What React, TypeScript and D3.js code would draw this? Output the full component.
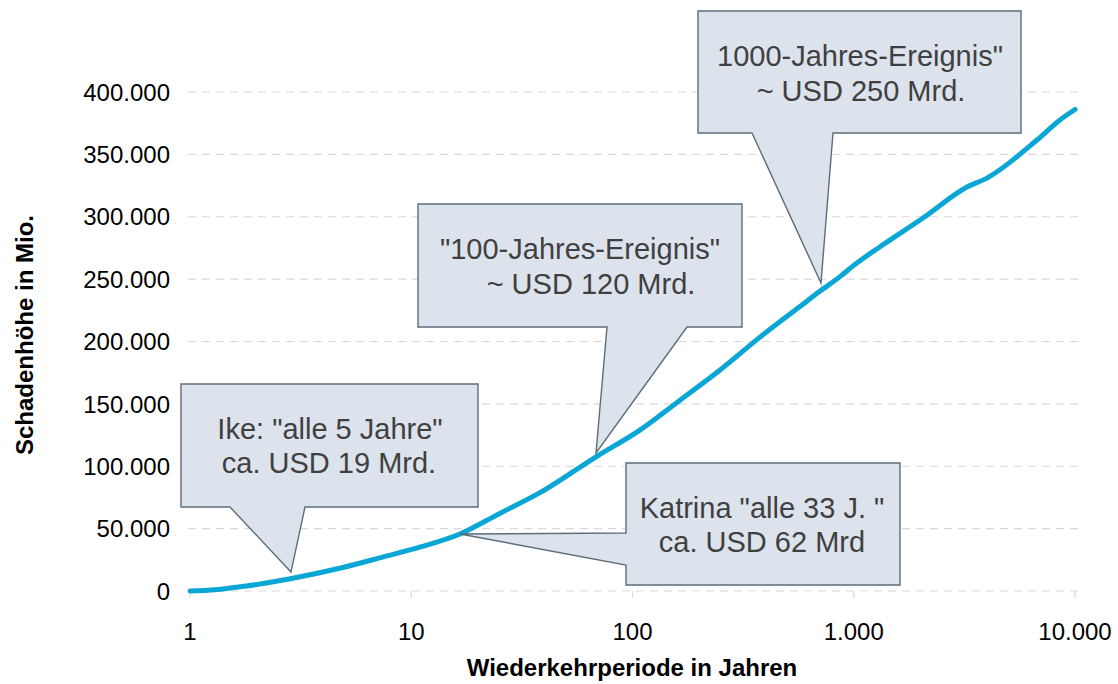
import React from "react";
import * as d3 from "d3";

// ---- data ----
const returnPeriods = [1, 1.3, 1.8, 2.8, 4.8, 7.2, 11, 16.6, 25, 38, 69, 108, 164, 248, 377, 571, 700, 867, 1000, 1315, 2056, 3250, 4000, 6730, 8550, 10000];
const lossMio = [0, 1000, 4000, 9600, 18400, 26500, 35300, 45700, 62000, 78600, 108000, 129000, 153000, 177000, 203500, 228000, 240000, 252000, 261000, 276000, 299000, 323800, 331000, 361500, 377600, 386000];

const xTicks = [1, 10, 100, 1000, 10000];
const yTicks = [0, 50000, 100000, 150000, 200000, 250000, 300000, 350000, 400000];

const xTitle = "Wiederkehrperiode in Jahren";
const yTitle = "Schadenhöhe in Mio.";

// annotation texts and the point (period, loss) each one refers to
const noteLines = [
  ['Ike: "alle 5 Jahre"', "ca. USD 19 Mrd."],
  ['"100-Jahres-Ereignis"', "~ USD 120 Mrd."],
  ['1000-Jahres-Ereignis"', "~ USD 250 Mrd."],
  ['Katrina "alle 33 J. "', "ca. USD 62 Mrd"],
];
const notePeriods = [2.86, 68.4, 711, 16.6];
const noteLosses = [15200, 110600, 246900, 45700];

// ---- layout (pixels) ----
const W = 1118;
const H = 684;
const plot = { left: 190, right: 1075, top: 92, bottom: 591 };
const noteLayout = [
  { box: [181, 384, 478, 507], side: "bottom", base: [230, 305], cx: [330, 329], by: [439, 473] },
  { box: [418, 204, 742, 327], side: "bottom", base: [607, 687], cx: [580, 591], by: [259, 294] },
  { box: [698, 11, 1021, 133], side: "bottom", base: [752, 833], cx: [860, 861], by: [66, 101] },
  { box: [626, 463, 900, 585], side: "left", base: [533, 565], cx: [762, 762], by: [518, 552] },
];

const deFormat = d3.formatLocale({ decimal: ",", thousands: ".", grouping: [3], currency: ["", ""] }).format(",.0f");

export default function App() {
  const x = d3.scaleLog().domain([1, 10000]).range([plot.left, plot.right]);
  const y = d3.scaleLinear().domain([0, 400000]).range([plot.bottom, plot.top]);

  const data = returnPeriods.map((p, i) => ({ p, v: lossMio[i] }));
  const line = d3
    .line<{ p: number; v: number }>()
    .x((d) => x(d.p))
    .y((d) => y(d.v))
    .curve(d3.curveMonotoneX);

  const font = "Arial, 'Liberation Sans', sans-serif";

  const calloutPath = (i: number) => {
    const L = noteLayout[i];
    const [x0, y0, x1, y1] = L.box;
    const tx = x(notePeriods[i]);
    const ty = y(noteLosses[i]);
    const [b0, b1] = L.base;
    if (L.side === "bottom") {
      return `M${x0},${y0}H${x1}V${y1}H${b1}L${tx},${ty}L${b0},${y1}H${x0}Z`;
    }
    return `M${x0},${y0}H${x1}V${y1}H${x0}V${b1}L${tx},${ty}L${x0},${b0}Z`;
  };

  return (
    <svg
      width={W}
      height={H}
      style={{ position: "absolute", left: 0, top: 0, background: "#fff" }}
      fontFamily={font}
    >
      {yTicks.map((t) => (
        <line
          key={"g" + t}
          x1={plot.left - 2}
          x2={plot.right + 4}
          y1={y(t)}
          y2={y(t)}
          stroke="#d9d9d9"
          strokeWidth={1.2}
          strokeDasharray="8,6"
        />
      ))}
      {xTicks.map((t) => (
        <line key={"xt" + t} x1={x(t)} x2={x(t)} y1={plot.bottom} y2={plot.bottom + 7} stroke="#d9d9d9" strokeWidth={1.2} />
      ))}
      {yTicks.map((t) => (
        <text key={"yl" + t} x={170} y={y(t)} dy="0.36em" textAnchor="end" fontSize={24} fill="#000">
          {deFormat(t)}
        </text>
      ))}
      {xTicks.map((t) => (
        <text key={"xl" + t} x={x(t)} y={640} textAnchor="middle" fontSize={24} fill="#000">
          {deFormat(t)}
        </text>
      ))}
      <text x={632} y={676} textAnchor="middle" fontSize={24} fontWeight="bold" fill="#000">
        {xTitle}
      </text>
      <text transform={`translate(33,335) rotate(-90)`} textAnchor="middle" fontSize={24} fontWeight="bold" fill="#000">
        {yTitle}
      </text>
      <path d={line(data) || ""} fill="none" stroke="#0aa6d6" strokeWidth={5} strokeLinejoin="round" strokeLinecap="round" />
      {noteLines.map((lines, i) => (
        <g key={"n" + i}>
          <path d={calloutPath(i)} fill="#dce3ec" stroke="#5b6e7a" strokeWidth={1.4} strokeLinejoin="miter" />
          {lines.map((s, j) => (
            <text key={j} x={noteLayout[i].cx[j]} y={noteLayout[i].by[j]} textAnchor="middle" fontSize={29} fill="#404040">
              {s}
            </text>
          ))}
        </g>
      ))}
    </svg>
  );
}
